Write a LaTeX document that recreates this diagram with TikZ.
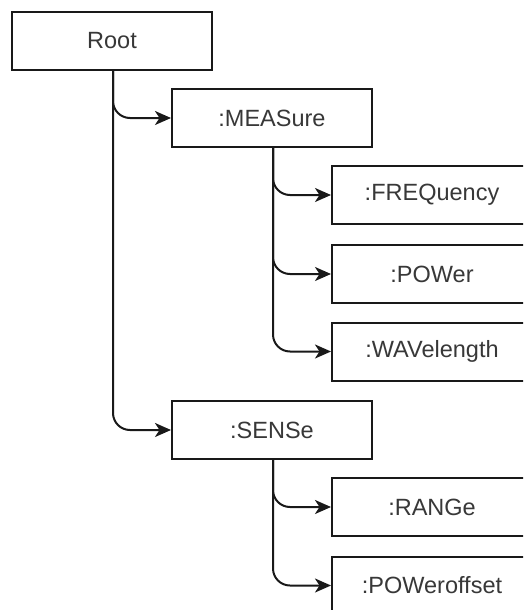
\documentclass[tikz,border=0pt]{standalone}
\usepackage{fontspec}
\setmainfont{Liberation Sans}
\usetikzlibrary{arrows.meta}
\begin{document}
\begin{tikzpicture}[x=1pt,y=-1pt,
  cmd/.style={draw=black!90, line width=2pt, fill=white, minimum width=200pt, minimum height=58pt,
    inner sep=0pt, text=black!78, font=\fontsize{23.5}{27}\selectfont},
  link/.style={draw=black!90, line width=2pt, rounded corners=17pt,
    -{Stealth[length=16pt,width=14pt,inset=4.5pt]}}]
\useasboundingbox (0,0) rectangle (523,610);
\clip (0,0) rectangle (523,610);
\node[cmd] (root) at (112,41) {Root};
\node[cmd] (meas) at (272,118) {:MEASure};
\node[cmd] (freq) at (432,195) {:FREQuency};
\node[cmd] (pow) at (432,274) {:POWer};
\node[cmd] (wav) at (432,351.5) {:WAVelength};
\node[cmd] (sens) at (272,430) {:SENSe};
\node[cmd] (rng) at (432,507) {:RANGe};
\node[cmd] (powo) at (432,585.5) {:POWeroffset};
\coordinate (rt) at ([xshift=1pt]root.south);
\coordinate (mt) at ([xshift=1pt]meas.south);
\coordinate (st) at ([xshift=1pt]sens.south);
\draw[link] (rt) |- (meas.west);
\draw[link] (rt) |- (sens.west);
\draw[link] (mt) |- (freq.west);
\draw[link] (mt) |- (pow.west);
\draw[link] (mt) |- (wav.west);
\draw[link] (st) |- (rng.west);
\draw[link] (st) |- (powo.west);
\end{tikzpicture}
\end{document}
